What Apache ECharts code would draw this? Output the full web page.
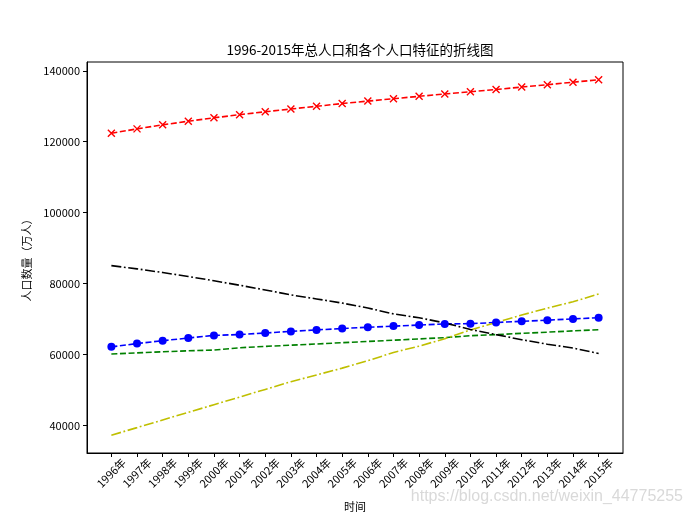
<!DOCTYPE html>
<html>
<head>
<meta charset="utf-8">
<script src="https://cdn.jsdelivr.net/npm/echarts@6/dist/echarts.min.js"></script>
<style>
  html, body { margin: 0; padding: 0; background: #fff; }
  #chart { width: 693px; height: 520px; }
</style>
</head>
<body>
<div id="chart"></div>
<script>
// 年份
const years = ['1996年', '1997年', '1998年', '1999年', '2000年', '2001年', '2002年', '2003年', '2004年', '2005年',
  '2006年', '2007年', '2008年', '2009年', '2010年', '2011年', '2012年', '2013年', '2014年', '2015年'];
// 总人口
const total = [122389, 123626, 124761, 125786, 126743, 127627, 128453, 129227, 129988, 130756,
  131448, 132129, 132802, 133450, 134091, 134735, 135404, 136072, 136782, 137462];
// 男性
const male = [62200, 63131, 63940, 64692, 65437, 65672, 66115, 66556, 66976, 67375,
  67728, 68048, 68357, 68647, 68748, 69068, 69395, 69728, 70079, 70414];
// 女性
const female = [60189, 60495, 60821, 61094, 61306, 61955, 62338, 62671, 63012, 63381,
  63720, 64081, 64445, 64803, 65343, 65667, 66009, 66344, 66703, 67048];
// 城镇
const urban = [37304, 39449, 41608, 43748, 45906, 48064, 50212, 52376, 54283, 56212,
  58288, 60633, 62403, 64512, 66978, 69079, 71182, 73111, 74916, 77116];
// 乡村
const rural = [85085, 84177, 83153, 82038, 80837, 79563, 78241, 76851, 75705, 74544,
  73160, 71496, 70399, 68938, 67113, 65656, 64222, 62961, 61866, 60346];
const yTicks = [40000, 60000, 80000, 100000, 120000, 140000];

const font = '"Noto Sans CJK SC", sans-serif';
const xIdx = years.map((_, i) => i);
let toPairs = (arr) => arr.map((v, i) => [i, v]);

const dashed = [6, 2.6];
const dashDot = [10, 2.6, 1.8, 2.6];

let mychart = echarts.init(document.getElementById('chart'));
let options = {
  animation: false,
  title: {
    text: '1996-2015年总人口和各个人口特征的折线图',
    left: 355,
    textAlign: 'center',
    top: 38,
    textStyle: { fontFamily: font, fontSize: 13.5, fontWeight: 'normal', color: '#000' }
  },
  grid: {
    left: 87, right: 70, top: 62, bottom: 67,
    show: true, borderColor: '#000', borderWidth: 1, backgroundColor: 'transparent'
  },
  xAxis: {
    type: 'value',
    min: -0.95,
    max: 19.95,
    name: '时间',
    nameLocation: 'middle',
    nameGap: 48,
    nameTextStyle: { fontFamily: font, fontSize: 11, color: '#000' },
    axisLine: { show: true, onZero: false, lineStyle: { color: '#000', width: 1 } },
    axisTick: { show: true, length: 4, lineStyle: { color: '#000' }, customValues: xIdx },
    splitLine: { show: false },
    axisLabel: {
      customValues: xIdx,
      rotate: 45,
      align: 'center',
      verticalAlign: 'middle',
      margin: 20,
      fontFamily: font,
      fontSize: 11,
      color: '#000',
      formatter: (v) => years[Math.round(v)]
    }
  },
  yAxis: {
    type: 'value',
    min: 32296,
    max: 142470,
    name: '人口数量（万人）',
    nameLocation: 'middle',
    nameGap: 54,
    nameTextStyle: { fontFamily: font, fontSize: 11, color: '#000' },
    axisLine: { show: true, onZero: false, lineStyle: { color: '#000', width: 1 } },
    axisTick: { show: true, length: 4, lineStyle: { color: '#000' }, customValues: yTicks },
    splitLine: { show: false },
    axisLabel: {
      customValues: yTicks,
      margin: 7,
      fontFamily: font,
      fontSize: 11,
      color: '#000',
      formatter: (v) => String(v)
    }
  },
  series: [
    {
      name: '总人口', type: 'line', data: toPairs(total),
      lineStyle: { color: '#ff0000', width: 1.6, type: dashed },
      symbol: 'path://M0,0L10,10M10,0L0,10', symbolSize: 7, showSymbol: true,
      itemStyle: { color: 'none', borderColor: '#ff0000', borderWidth: 1.4 }
    },
    {
      name: '男性', type: 'line', data: toPairs(male),
      lineStyle: { color: '#0000ff', width: 1.6, type: dashed },
      symbol: 'circle', symbolSize: 8,
      itemStyle: { color: '#0000ff', borderWidth: 0 }
    },
    {
      name: '女性', type: 'line', data: toPairs(female), showSymbol: false,
      lineStyle: { color: '#008000', width: 1.6, type: dashed }
    },
    {
      name: '城镇', type: 'line', data: toPairs(urban), showSymbol: false,
      lineStyle: { color: '#bfbf00', width: 1.6, type: dashDot }
    },
    {
      name: '乡村', type: 'line', data: toPairs(rural), showSymbol: false,
      lineStyle: { color: '#000000', width: 1.6, type: dashDot }
    }
  ],
  graphic: [
    {
      type: 'text', right: 10, top: 489,
      style: { text: 'https://blog.csdn.net/weixin_44775255', fill: '#d9d9d9', fontSize: 16, fontFamily: '"Liberation Sans", Arial, sans-serif' }
    }
  ]
};
mychart.setOption(options);
</script>
</body>
</html>
